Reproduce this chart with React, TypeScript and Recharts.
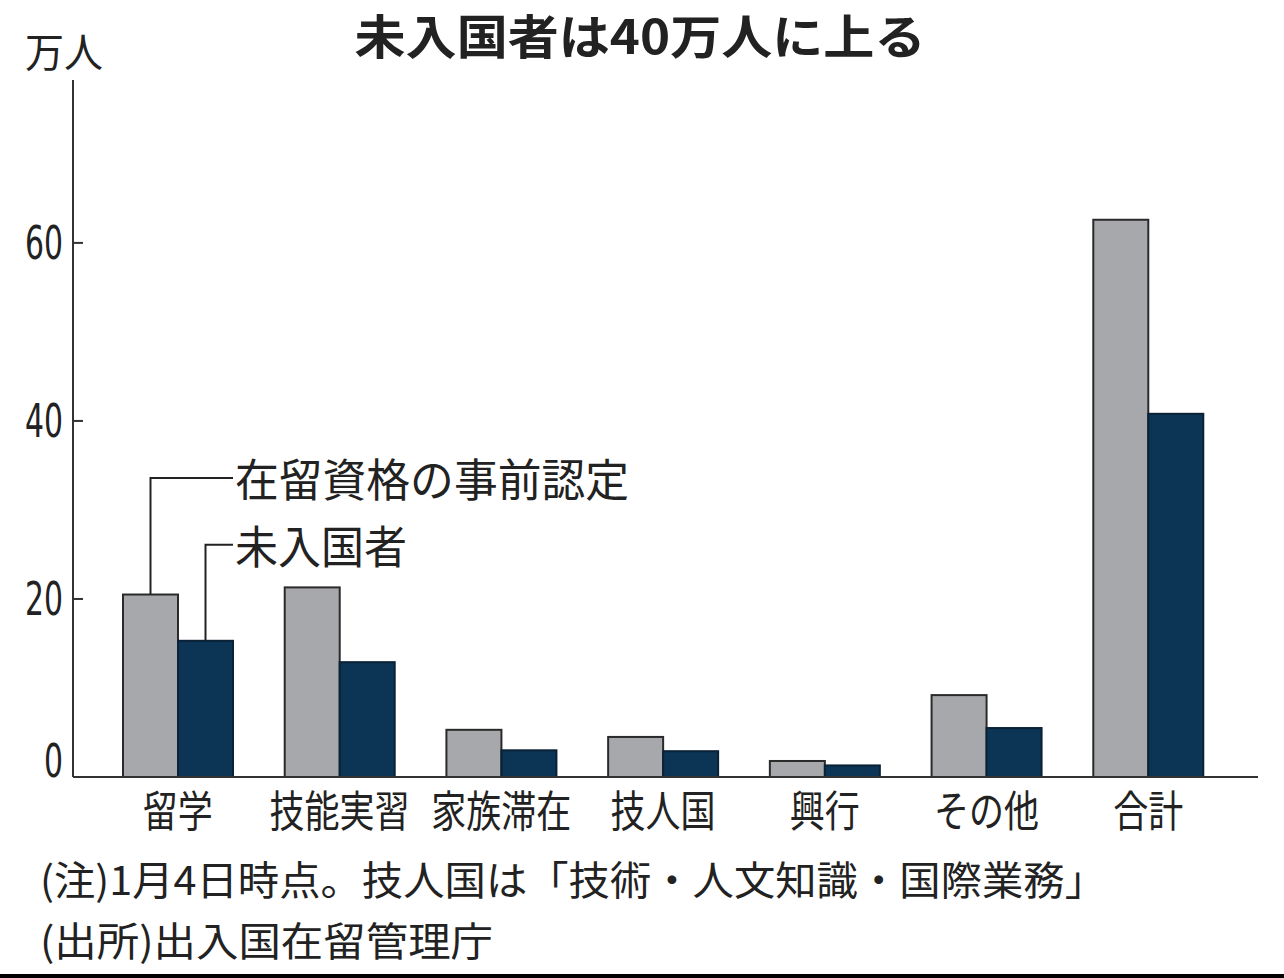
import { BarChart, Bar, XAxis, YAxis } from 'recharts'

const CATEGORIES = ['留学', '技能実習', '家族滞在', '技人国', '興行', 'その他', '合計']
const APPROVED = [20.5, 21.3, 5.3, 4.5, 1.8, 9.2, 62.6]
const NOT_ENTERED = [15.3, 12.9, 3.0, 2.9, 1.3, 5.5, 40.8]
const Y_TICKS = [0, 20, 40, 60]
const SERIES_NAMES = ['在留資格の事前認定', '未入国者']
// leader line heights, in 万人
const LEADER_LEVELS = [33.6, 26.1]

const data = CATEGORIES.map((name, i) => ({
  name,
  approved: APPROVED[i],
  notEntered: NOT_ENTERED[i]
}))

const JP = '"Noto Sans CJK JP", "Noto Sans CJK SC", sans-serif'
const NUM = '"Liberation Sans Narrow", "DejaVu Sans Condensed", "Liberation Sans", sans-serif'
const INK = '#222'
const AXIS = '#333'

const GRAY = '#a7a8ab'
const NAVY = '#0c3454'

// tick mark points inward from the axis, label sits to the left
const YTick = (props: any) => {
  const { x, y, payload } = props
  const label = String(payload.value)
  return (
    <g>
      {payload.value !== 0 && <rect x={x} y={y - 1} width={10} height={2} fill={AXIS} />}
      <text
        x={x - 10}
        y={payload.value === 0 ? y : y + 16}
        textAnchor="end"
        fontFamily={NUM}
        fontSize={46}
        fill={INK}
        textLength={label.length * 19}
        lengthAdjust="spacingAndGlyphs"
      >
        {label}
      </text>
    </g>
  )
}

const XTick = (props: any) => {
  const { x, y, payload } = props
  const label = String(payload.value)
  return (
    <text
      x={x}
      y={y + 50}
      textAnchor="middle"
      fontFamily={JP}
      fontSize={43}
      fill={INK}
      textLength={label.length * 35}
      lengthAdjust="spacingAndGlyphs"
    >
      {label}
    </text>
  )
}

function makeShape(seriesIndex: number, key: string, fill: string, stroke: string) {
  return (props: any) => {
    const { x, y, width, height, index, payload } = props
    const rect = <rect x={x} y={y} width={width} height={height} fill={fill} stroke={stroke} strokeWidth={2} />
    if (index !== 0) return rect
    const v = payload[key]
    const level = y + height - (LEADER_LEVELS[seriesIndex] * height) / v
    const cx = x + width / 2
    const textX = x + width * (2 - seriesIndex)
    const name = SERIES_NAMES[seriesIndex]
    return (
      <g>
        {rect}
        <path d={`M${cx},${y} V${level} H${textX}`} fill="none" stroke={INK} strokeWidth={2} />
        <text
          x={textX + 2}
          y={level + 19}
          fontFamily={JP}
          fontSize={45}
          fill={INK}
          textLength={seriesIndex === 0 ? 394 : 172}
          lengthAdjust="spacingAndGlyphs"
        >
          {name}
        </text>
      </g>
    )
  }
}

export default function App() {
  return (
    <div style={{ position: 'absolute', left: 0, top: 0, width: 1284, height: 978, background: '#fff' }}>
      <BarChart
        width={1284}
        height={978}
        data={data}
        margin={{ top: 80, right: 26, left: 0, bottom: 141 }}
        barGap={0}
        barSize={55}
      >
        <YAxis
          width={73}
          domain={[0, 78.3]}
          ticks={Y_TICKS}
          interval={0}
          allowDataOverflow
          axisLine={{ stroke: AXIS, strokeWidth: 2 }}
          tickLine={false}
          tickSize={0}
          tickMargin={0}
          tick={<YTick />}
        />
        <XAxis
          dataKey="name"
          height={60}
          padding={{ left: 24, right: 29 }}
          interval={0}
          axisLine={{ stroke: AXIS, strokeWidth: 2 }}
          tickLine={false}
          tickSize={0}
          tickMargin={0}
          tick={<XTick />}
        />
        <Bar dataKey="approved" fill={GRAY} isAnimationActive={false} shape={makeShape(0, 'approved', GRAY, '#2a2a2a')} />
        <Bar dataKey="notEntered" fill={NAVY} isAnimationActive={false} shape={makeShape(1, 'notEntered', NAVY, '#0a2236')} />
      </BarChart>
      <svg
        width={1284}
        height={978}
        style={{ position: 'absolute', left: 0, top: 0, pointerEvents: 'none' }}
      >
        <text
          x={640}
          y={54}
          textAnchor="middle"
          fontFamily={JP}
          fontWeight={700}
          fontSize={47}
          fill={INK}
          textLength={571}
          lengthAdjust="spacingAndGlyphs"
        >
          未入国者は40万人に上る
        </text>
        <text x={25} y={67} fontFamily={JP} fontSize={40} fill={INK} textLength={78} lengthAdjust="spacingAndGlyphs">
          万人
        </text>
        <text x={40} y={895} fontFamily={JP} fontSize={40} fill={INK} textLength={1066} lengthAdjust="spacingAndGlyphs">
          (注)1月4日時点。技人国は「技術・人文知識・国際業務」
        </text>
        <text x={40} y={956} fontFamily={JP} fontSize={40} fill={INK} textLength={453} lengthAdjust="spacingAndGlyphs">
          (出所)出入国在留管理庁
        </text>
        <rect x={0} y={974} width={1284} height={4} fill="#000" />
      </svg>
    </div>
  )
}
